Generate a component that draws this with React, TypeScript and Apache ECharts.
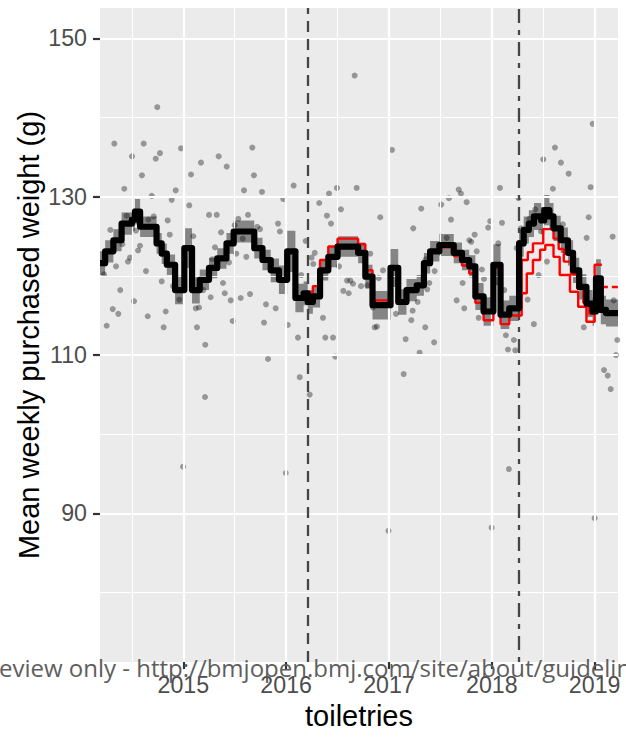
import React, { useEffect, useRef } from "react";
import * as echarts from "echarts";

// ---- axis ranges & ticks ----
const X_MIN = 2014.19;
const X_MAX = 2019.227;
const Y_MIN = 71.23;
const Y_MAX = 153.83;
const xMajorTicks = [2015, 2016, 2017, 2018, 2019];
const xMinorTicks = [2014.5, 2015.5, 2016.5, 2017.5, 2018.5];
const yMajorTicks = [90, 110, 130, 150];
const yMinorTicks = [80, 100, 120, 140];

// ---- intervention dates (decimal years) ----
const announcementDate = 2016.21;
const levyDate = 2018.26;

// ---- weekly observed means [decimal year, grams] ----
const weeklyMeans: [number, number][] = [
  [2014.747, 141.3], [2014.329, 136.7], [2014.615, 136.7], [2014.773, 135.5], [2014.732, 134.8],
  [2014.501, 135.1], [2014.978, 136.1], [2015.172, 134.3], [2014.598, 132.7], [2015.075, 132.8],
  [2014.426, 131.0], [2014.926, 130.8], [2014.693, 130.1], [2014.887, 129.6], [2015.058, 128.9],
  [2014.45, 127.6], [2014.712, 127.5], [2014.66, 127.1], [2014.848, 127.0], [2014.29, 125.8],
  [2014.54, 125.7], [2014.868, 125.2], [2015.097, 125.0], [2014.407, 124.0], [2014.579, 123.8],
  [2014.56, 123.2], [2014.482, 122.3], [2014.462, 121.8], [2014.346, 121.2], [2014.229, 120.2],
  [2014.637, 120.6], [2014.9, 118.7], [2014.79, 119.3], [2014.387, 118.2], [2014.521, 116.8],
  [2014.961, 117.0], [2014.314, 115.8], [2014.368, 115.2], [2014.829, 115.5], [2014.654, 114.9],
  [2015.121, 115.9], [2015.153, 116.0], [2014.255, 113.7], [2014.809, 113.5], [2015.133, 113.5],
  [2015.214, 111.3], [2015.194, 118.2], [2015.211, 104.7], [2014.998, 95.9],
  [2015.671, 136.2], [2015.344, 135.1], [2015.422, 133.8], [2015.687, 132.7], [2015.59, 130.8],
  [2015.765, 130.6], [2016.073, 131.4], [2015.972, 129.7], [2015.25, 127.7], [2015.325, 127.7],
  [2015.535, 127.2], [2015.629, 127.7], [2015.921, 126.6], [2015.367, 125.5], [2015.5, 126.4],
  [2015.719, 126.2], [2015.746, 125.9], [2015.94, 125.6], [2015.578, 124.7], [2016.19, 124.4],
  [2015.308, 123.6], [2015.515, 122.8], [2015.613, 122.4], [2015.282, 122.1], [2015.444, 121.7],
  [2016.093, 123.1], [2016.147, 120.1], [2015.386, 119.1], [2015.403, 117.8], [2015.266, 117.3],
  [2015.461, 116.9], [2015.558, 117.2], [2015.649, 117.7], [2015.804, 116.4], [2015.898, 115.9],
  [2015.48, 114.3], [2015.785, 114.1], [2016.015, 113.8], [2016.115, 112.2], [2015.824, 109.5],
  [2016.132, 107.2], [2015.996, 95.1],
  [2016.666, 145.3], [2017.029, 135.9], [2016.494, 131.1], [2016.686, 131.1], [2016.417, 130.4],
  [2016.322, 129.2], [2016.533, 128.4], [2016.397, 127.6], [2016.436, 126.6], [2016.915, 127.4],
  [2017.236, 126.0], [2016.278, 122.9], [2016.248, 122.3], [2016.264, 121.5], [2016.818, 122.8],
  [2016.514, 121.2], [2016.942, 120.7], [2016.9, 119.7], [2016.592, 119.4], [2016.624, 119.4],
  [2016.65, 119.0], [2016.556, 118.1], [2016.608, 117.8], [2016.728, 118.7], [2016.789, 118.8],
  [2016.844, 116.0], [2016.861, 113.5], [2016.883, 113.6], [2017.068, 115.2], [2017.23, 115.6],
  [2017.217, 114.4], [2016.358, 114.7], [2016.381, 112.2], [2016.456, 112.2], [2017.162, 112.0],
  [2016.478, 109.8], [2017.143, 107.6], [2016.229, 105.0], [2016.995, 87.8],
  [2017.678, 130.9], [2017.7, 130.4], [2018.079, 131.1], [2017.583, 129.8], [2017.508, 129.0],
  [2017.755, 129.3], [2017.314, 128.5], [2017.603, 127.1], [2017.985, 126.9], [2017.965, 126.1],
  [2018.099, 126.7], [2017.833, 125.2], [2017.561, 124.8], [2017.781, 124.5], [2017.8, 124.3],
  [2018.063, 124.1], [2017.853, 123.1], [2017.357, 122.1], [2017.904, 120.8], [2017.444, 120.6],
  [2017.392, 119.1], [2017.924, 119.6], [2017.716, 119.1], [2017.372, 118.3], [2018.121, 118.2],
  [2017.279, 116.7], [2017.658, 116.9], [2017.732, 115.9], [2017.872, 114.7], [2017.353, 113.5],
  [2018.137, 112.5], [2018.215, 111.9], [2017.439, 111.6], [2018.157, 110.7], [2018.228, 110.6],
  [2017.298, 110.3], [2018.242, 123.5], [2017.998, 88.2], [2018.166, 95.6],
  [2018.981, 139.2], [2018.614, 136.2], [2018.5, 134.7], [2018.672, 134.3], [2018.747, 132.9],
  [2018.594, 131.0], [2018.961, 131.2], [2018.26, 129.8], [2018.942, 127.4], [2018.423, 128.4],
  [2018.365, 127.2], [2018.691, 126.5], [2019.175, 124.95], [2018.922, 124.8], [2018.478, 125.6],
  [2018.283, 126.0], [2018.536, 121.8], [2018.455, 120.1], [2018.348, 117.0], [2019.185, 116.9],
  [2018.894, 113.5], [2018.409, 113.9], [2019.22, 111.9], [2019.207, 110.0], [2019.091, 108.1],
  [2019.127, 107.4], [2019.156, 105.7], [2019.0, 89.4],
];

// ---- fitted model: [step start, fitted mean, CI half-width] ----
const fitSteps: [number, number, number][] = [
  [2014.19, 121.6, 1.5], [2014.24, 123.1, 1.4], [2014.32, 124.5, 1.4], [2014.4, 126.6, 1.4],
  [2014.5, 127.1, 1.4], [2014.53, 128.1, 1.6], [2014.58, 126.2, 1.3], [2014.74, 124.1, 1.3],
  [2014.79, 122.8, 1.3], [2014.84, 121.4, 1.3], [2014.92, 118.2, 1.8], [2015.01, 123.5, 2.5],
  [2015.085, 118.2, 1.7], [2015.16, 119.5, 1.3], [2015.25, 121.0, 1.3], [2015.33, 122.2, 1.3],
  [2015.42, 124.1, 1.3], [2015.49, 125.6, 1.4], [2015.69, 123.5, 1.3], [2015.77, 122.0, 1.3],
  [2015.85, 120.7, 1.5], [2015.93, 119.5, 1.8], [2016.01, 123.1, 2.6], [2016.09, 117.2, 1.8],
  [2016.17, 117.8, 1.5], [2016.21, 116.7, 1.5], [2016.26, 117.4, 1.4], [2016.33, 120.7, 1.3],
  [2016.41, 122.4, 1.3], [2016.5, 123.7, 1.3], [2016.7, 122.9, 1.3], [2016.77, 119.9, 1.5],
  [2016.84, 116.3, 1.8], [2017.015, 121.0, 2.4], [2017.09, 116.7, 1.6], [2017.17, 118.2, 1.4],
  [2017.27, 118.8, 1.3], [2017.34, 121.6, 1.3], [2017.4, 123.1, 1.3], [2017.49, 123.9, 1.4],
  [2017.63, 122.9, 1.3], [2017.71, 122.0, 1.3], [2017.78, 121.2, 1.4], [2017.84, 117.4, 1.7],
  [2017.92, 115.5, 1.8], [2018.015, 121.4, 2.6], [2018.085, 115.1, 1.8], [2018.17, 115.9, 1.6],
  [2018.265, 124.1, 1.7], [2018.31, 125.8, 1.7], [2018.36, 126.6, 1.7], [2018.41, 127.5, 1.7],
  [2018.48, 127.0, 1.7], [2018.51, 128.3, 1.9], [2018.56, 127.5, 1.7], [2018.6, 126.0, 1.6],
  [2018.67, 124.5, 1.6], [2018.74, 122.9, 1.6], [2018.79, 120.7, 1.6], [2018.85, 118.6, 1.6],
  [2018.92, 116.5, 1.7], [2018.98, 115.5, 1.8], [2019.013, 119.7, 2.4], [2019.06, 115.7, 1.8],
  [2019.11, 115.3, 1.7], [2019.227, 115.3, 1.7],
];

// ---- counterfactual (red) lines ----
const counterfactualMain: [number, number][] = [
  [2016.21, 117.9], [2016.26, 118.7], [2016.33, 122.0], [2016.41, 123.7], [2016.5, 124.7],
  [2016.7, 124.0], [2016.77, 120.7], [2016.84, 116.9], [2017.015, 121.0], [2017.09, 116.9],
  [2017.17, 118.3], [2017.27, 118.8], [2017.34, 121.6], [2017.4, 123.0], [2017.49, 123.6],
  [2017.63, 122.5], [2017.71, 121.3], [2017.78, 120.3], [2017.84, 116.6], [2017.92, 114.4],
  [2018.015, 121.0], [2018.085, 113.9], [2018.17, 115.0], [2018.29, 117.8], [2018.34, 120.3],
  [2018.4, 122.0], [2018.47, 123.3], [2018.52, 123.9], [2018.6, 122.4], [2018.66, 120.1],
  [2018.76, 118.0], [2018.84, 116.1], [2018.92, 114.2], [2019.0, 121.4], [2019.07, 121.4],
];
const counterfactualLevy: [number, number][] = [
  [2018.265, 116.0], [2018.29, 122.0], [2018.35, 123.0], [2018.4, 124.1], [2018.5, 125.9],
  [2018.6, 124.7], [2018.65, 123.4], [2018.7, 121.8], [2018.77, 120.2], [2018.83, 118.4],
  [2018.89, 116.6], [2018.95, 115.2], [2019.0, 115.2],
];
const counterfactualTail: [number, number][] = [
  [2019.07, 118.6], [2019.227, 118.6],
];

const FONT = '"Liberation Sans", Arial, Helvetica, sans-serif';

export default function App() {
  const ref = useRef<HTMLDivElement>(null);

  useEffect(() => {
    if (!ref.current) return;
    const chart = echarts.init(ref.current, undefined, { renderer: "svg" });

    const gridLine = (w: number) => ({ color: "#FFFFFF", width: w, type: "solid" });
    const gridMarks = [
      ...yMinorTicks.map((v) => ({ yAxis: v, lineStyle: gridLine(1.1) })),
      ...xMinorTicks.map((v) => ({ xAxis: v, lineStyle: gridLine(1.1) })),
      ...yMajorTicks.map((v) => ({ yAxis: v, lineStyle: gridLine(2.2) })),
      ...xMajorTicks.map((v) => ({ xAxis: v, lineStyle: gridLine(2.2) })),
    ];

    // confidence ribbon: one stepped polygon, every vertex placed through the axis scales
    const ribbonRender = (params: any, api: any) => {
      if (params.dataIndex !== 0) return null;
      const upper: number[][] = [];
      const lower: number[][] = [];
      for (let i = 0; i < fitSteps.length - 1; i++) {
        const [t0, v, h] = fitSteps[i];
        const t1 = fitSteps[i + 1][0];
        upper.push(api.coord([t0, v + h]), api.coord([t1, v + h]));
        lower.push(api.coord([t0, v - h]), api.coord([t1, v - h]));
      }
      const points = upper.concat(lower.reverse());
      return {
        type: "polygon",
        shape: { points },
        style: { fill: "rgba(50,50,50,0.55)" },
        silent: true,
      };
    };

    const option: any = {
      animation: false,
      grid: {
        left: 100,
        top: 8,
        width: 518,
        height: 654,
        show: true,
        backgroundColor: "#EBEBEB",
        borderWidth: 0,
        containLabel: false,
        outerBoundsMode: "none",
      },
      xAxis: {
        type: "value",
        min: X_MIN,
        max: X_MAX,
        axisLine: { show: false },
        splitLine: { show: false },
        minorTick: { show: false },
        axisTick: {
          show: true,
          customValues: xMajorTicks,
          length: 7,
          lineStyle: { color: "#333333", width: 2.2 },
        },
        axisLabel: {
          customValues: xMajorTicks,
          formatter: (v: number) => String(Math.round(v)),
          fontSize: 23.2,
          color: "#4D4D4D",
          fontFamily: FONT,
          margin: 11,
        },
      },
      yAxis: {
        type: "value",
        min: Y_MIN,
        max: Y_MAX,
        axisLine: { show: false },
        splitLine: { show: false },
        minorTick: { show: false },
        axisTick: {
          show: true,
          customValues: yMajorTicks,
          length: 7,
          lineStyle: { color: "#333333", width: 2.2 },
        },
        axisLabel: {
          customValues: yMajorTicks,
          formatter: (v: number) => String(Math.round(v)),
          fontSize: 23.2,
          color: "#4D4D4D",
          fontFamily: FONT,
          margin: 13,
        },
      },
      series: [
        {
          name: "grid",
          type: "line",
          z: 1,
          silent: true,
          data: [[X_MIN, Y_MIN]],
          showSymbol: false,
          symbol: "none",
          lineStyle: { width: 0, opacity: 0 },
          markLine: {
            silent: true,
            symbol: ["none", "none"],
            label: { show: false },
            emphasis: { disabled: true },
            data: gridMarks,
          },
        },
        {
          name: "ci",
          type: "custom",
          z: 2,
          silent: true,
          clip: true,
          renderItem: ribbonRender,
          encode: { x: 0, y: 1 },
          data: fitSteps.map(([t, v]) => [t, v]),
        },
        {
          name: "weekly",
          type: "scatter",
          z: 3,
          silent: true,
          symbol: "circle",
          symbolSize: 6,
          itemStyle: { color: "rgba(0,0,0,0.45)" },
          data: weeklyMeans,
        },
        {
          name: "events",
          type: "line",
          z: 4,
          silent: true,
          data: [[X_MIN, Y_MIN]],
          showSymbol: false,
          symbol: "none",
          lineStyle: { width: 0, opacity: 0 },
          markLine: {
            silent: true,
            symbol: ["none", "none"],
            label: { show: false },
            emphasis: { disabled: true },
            data: [
              { xAxis: announcementDate, lineStyle: { color: "#454545", width: 2.3, type: [11, 7] } },
              { xAxis: levyDate, lineStyle: { color: "#454545", width: 2.3, type: [5, 7, 14, 7] } },
            ],
          },
        },
        {
          name: "counterfactualMain",
          type: "line",
          z: 5,
          silent: true,
          step: "end",
          symbol: "none",
          showSymbol: false,
          lineStyle: { color: "#FF0000", width: 2.4 },
          data: counterfactualMain,
        },
        {
          name: "counterfactualLevy",
          type: "line",
          z: 5,
          silent: true,
          step: "end",
          symbol: "none",
          showSymbol: false,
          lineStyle: { color: "#FF0000", width: 2.4 },
          data: counterfactualLevy,
        },
        {
          name: "counterfactualTail",
          type: "line",
          z: 5,
          silent: true,
          symbol: "none",
          showSymbol: false,
          lineStyle: { color: "#FF0000", width: 2.4, type: [6, 4] },
          data: counterfactualTail,
        },
        {
          name: "fitted",
          type: "line",
          z: 6,
          silent: true,
          step: "end",
          symbol: "none",
          showSymbol: false,
          lineStyle: { color: "#000000", width: 6.2, join: "round" },
          data: fitSteps.map(([t, v]) => [t, v]),
        },
      ],
      graphic: [
        {
          type: "text",
          x: 28.5,
          y: 335,
          rotation: Math.PI / 2,
          style: {
            text: "Mean weekly purchased weight (g)",
            fontSize: 29,
            fontFamily: FONT,
            fill: "#000000",
            align: "center",
            verticalAlign: "middle",
            textAlign: "center",
            textVerticalAlign: "middle",
          },
        },
        {
          type: "text",
          x: 359,
          y: 716,
          style: {
            text: "toiletries",
            fontSize: 29,
            fontFamily: FONT,
            fill: "#000000",
            align: "center",
            verticalAlign: "middle",
            textAlign: "center",
            textVerticalAlign: "middle",
          },
        },
        {
          type: "text",
          x: -1,
          y: 667,
          z: 100,
          style: {
            text: "eview only - http://bmjopen.bmj.com/site/about/guidelin",
            fontSize: 24,
            fontFamily: '"Open Sans", "Noto Sans", sans-serif',
            fill: "#5E5E5E",
            align: "left",
            verticalAlign: "middle",
            textAlign: "left",
            textVerticalAlign: "middle",
          },
        },
      ],
    };

    chart.setOption(option);
    return () => chart.dispose();
  }, []);

  return (
    <div
      ref={ref}
      style={{ position: "absolute", left: 0, top: 0, width: 626, height: 747, background: "#FFFFFF" }}
    />
  );
}
